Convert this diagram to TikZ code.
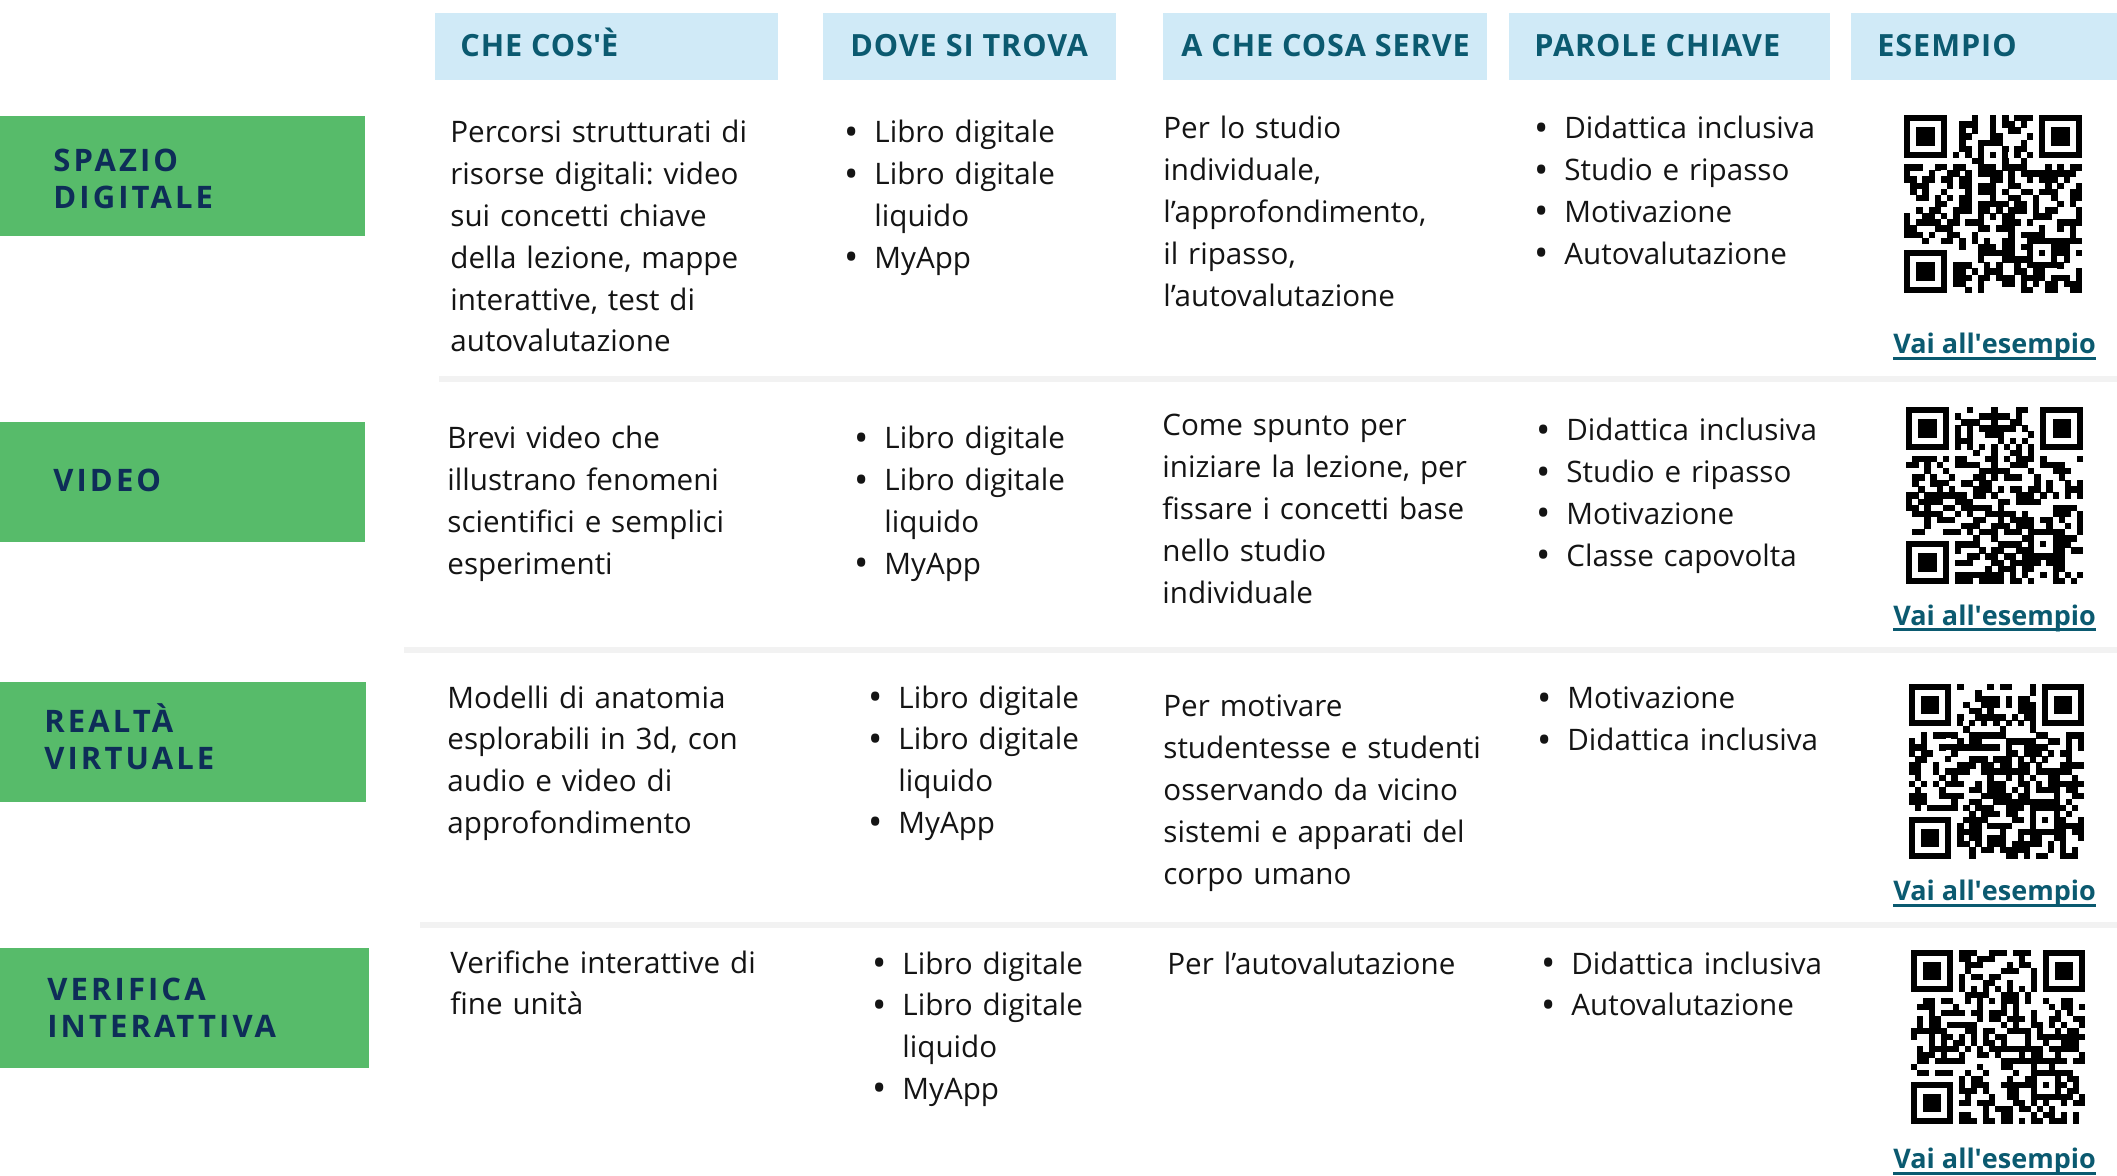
\documentclass[tikz,border=0pt]{standalone}
\usepackage{fontspec}
\setmainfont{Open Sans}
\newfontfamily\labfamily[LetterSpace=10]{Open Sans}
\newfontfamily\headfamily[LetterSpace=3]{Open Sans}
\definecolor{headblue}{RGB}{208, 234, 247}
\definecolor{headteal}{RGB}{11, 90, 112}
\definecolor{labgreen}{RGB}{87, 187, 106}
\definecolor{labnavy}{RGB}{14, 45, 88}
\definecolor{sepgray}{RGB}{242, 242, 242}
\definecolor{bodyblack}{RGB}{20, 20, 20}
\usetikzlibrary{positioning}
\frenchspacing
\newcommand{\bodyfnt}{\fontsize{14.8}{20.9}\selectfont}
\newcommand{\headfnt}{\headfamily\bfseries\fontsize{15.3}{18}\selectfont}
\newcommand{\labfnt}{\labfamily\bfseries\fontsize{15.5}{18.5}\selectfont}
\newcommand{\linkfnt}{\bfseries\fontsize{13.5}{15}\selectfont}
\newcommand{\bul}{\makebox[15pt][l]{\raisebox{-1.2pt}{\fontsize{19}{19}\selectfont\textbullet}}}
\newcommand{\ind}{\hspace*{15pt}}
% pseudo QR code: x, y, size, seed
\newcommand{\qrpattern}[4]{%
  \begin{scope}[shift={(#1,#2)}, scale=#3/29]
    \pgfmathsetseed{#4}
    \foreach \i in {0,...,28}{
      \foreach \j in {0,...,28}{
        \pgfmathtruncatemacro{\skipme}{((\i<8)&&(\j<8))||((\i>20)&&(\j<8))||((\i<8)&&(\j>20))||((\i>19)&&(\i<25)&&(\j>19)&&(\j<25))||(\i==6)||(\j==6)}
        \ifnum\skipme=0
          \pgfmathrandominteger{\rr}{0}{99}
          \ifnum\rr<50 \fill (\i,\j) rectangle ++(1.05,1.05); \fi
        \fi
      }
    }
    \foreach \k in {8,10,...,20}{
      \fill (\k,6) rectangle ++(1,1);
      \fill (6,\k) rectangle ++(1,1);
    }
    \foreach \a/\b in {0/0,22/0,0/22}{
      \fill (\a,\b) rectangle ++(7,7);
      \fill[white] (\a+1,\b+1) rectangle ++(5,5);
      \fill (\a+2,\b+2) rectangle ++(3,3);
    }
    \fill (20,20) rectangle ++(5,5);
    \fill[white] (21,21) rectangle ++(3,3);
    \fill (22,22) rectangle ++(1,1);
  \end{scope}}

\begin{document}
\begin{tikzpicture}[x=0.5pt, y=-0.5pt,
  headtxt/.style={anchor=base west, inner sep=0, text=headteal, font=\headfnt},
  labtxt/.style={anchor=base west, inner sep=0, text=labnavy, align=left, text width=170pt, font=\labfnt},
  bodytxt/.style={anchor=base west, inner sep=0, text=bodyblack, align=left, text width=200pt, font=\bodyfnt},
  linktxt/.style={anchor=base west, inner sep=0, text=headteal, font=\linkfnt},
  uline/.style={draw=headteal, line width=1.5pt}
]
  \useasboundingbox[fill=white] (0,0) rectangle (2117,1176);

  % Column headers
  \fill[headblue] (435,13) rectangle (778,80);
  \fill[headblue] (823,13) rectangle (1116,80);
  \fill[headblue] (1163,13) rectangle (1487,80);
  \fill[headblue] (1509,13) rectangle (1830,80);
  \fill[headblue] (1851,13) rectangle (2117,80);
  \node[headtxt] (hcosa) at (460,57) {CHE COS\textquotesingle È};
  \node[headtxt] (hdove) at (850,57) {DOVE SI TROVA};
  \node[headtxt] (hserve) at (1181,57) {A CHE COSA SERVE};
  \node[headtxt] (hparole) at (1534,57) {PAROLE CHIAVE};
  \node[headtxt] (hesempio) at (1877,57) {ESEMPIO};

  % Row separators
  \fill[sepgray] (439,376) rectangle (2117,382);
  \fill[sepgray] (404,647) rectangle (2117,653);
  \fill[sepgray] (420,922) rectangle (2117,928);

  % Row labels
  \fill[labgreen] (0,116) rectangle (365,236);
  \fill[labgreen] (0,422) rectangle (365,542);
  \fill[labgreen] (0,682) rectangle (366,802);
  \fill[labgreen] (0,948) rectangle (369,1068);
  \node[labtxt] (lspazio) at (53,172) {SPAZIO\\DIGITALE};
  \node[labtxt] (lvideo) at (53,492) {VIDEO};
  \node[labtxt] (lrealta) at (44,733) {REALTÀ\\VIRTUALE};
  \node[labtxt] (lverifica) at (47,1000) {VERIFICA\\INTERATTIVA};

  % Che cos'è
  \node[bodytxt] (cosa1) at (450,143) {Percorsi strutturati di\\risorse digitali: video\\sui concetti chiave\\della lezione, mappe\\interattive, test di\\autovalutazione};
  \node[bodytxt] (cosa2) at (447,449) {Brevi video che\\illustrano fenomeni\\scientifici e semplici\\esperimenti};
  \node[bodytxt] (cosa3) at (447,708) {Modelli di anatomia\\esplorabili in 3d, con\\audio e video di\\approfondimento};
  \node[bodytxt] (cosa4) at (450,973) {Verifiche interattive di\\fine unità};

  % Dove si trova
  \node[bodytxt] (dove1) at (844,143) {\bul Libro digitale\\\bul Libro digitale\\\ind liquido\\\bul MyApp};
  \node[bodytxt] (dove2) at (854,449) {\bul Libro digitale\\\bul Libro digitale\\\ind liquido\\\bul MyApp};
  \node[bodytxt] (dove3) at (868,708) {\bul Libro digitale\\\bul Libro digitale\\\ind liquido\\\bul MyApp};
  \node[bodytxt] (dove4) at (872,974) {\bul Libro digitale\\\bul Libro digitale\\\ind liquido\\\bul MyApp};

  % A che cosa serve
  \node[bodytxt] (serve1) at (1163,139) {Per lo studio\\individuale,\\l’approfondimento,\\il ripasso,\\l’autovalutazione};
  \node[bodytxt] (serve2) at (1162,436) {Come spunto per\\iniziare la lezione, per\\fissare i concetti base\\nello studio\\individuale};
  \node[bodytxt] (serve3) at (1163,717) {Per motivare\\studentesse e studenti\\osservando da vicino\\sistemi e apparati del\\corpo umano};
  \node[bodytxt] (serve4) at (1167,974) {Per l’autovalutazione};

  % Parole chiave
  \node[bodytxt] (parole1) at (1534,139) {\bul Didattica inclusiva\\\bul Studio e ripasso\\\bul Motivazione\\\bul Autovalutazione};
  \node[bodytxt] (parole2) at (1536,441) {\bul Didattica inclusiva\\\bul Studio e ripasso\\\bul Motivazione\\\bul Classe capovolta};
  \node[bodytxt] (parole3) at (1537,709) {\bul Motivazione\\\bul Didattica inclusiva};
  \node[bodytxt] (parole4) at (1541,974) {\bul Didattica inclusiva\\\bul Autovalutazione};

  % Esempio
  \qrpattern{1904}{115}{178}{11}
  \qrpattern{1906}{407}{177}{23}
  \qrpattern{1909}{684}{175}{37}
  \qrpattern{1911}{950}{174}{41}
  \node[linktxt] (link1) at (1893,354) {Vai all\textquotesingle esempio};
  \node[linktxt] (link2) at (1893,625) {Vai all\textquotesingle esempio};
  \node[linktxt] (link3) at (1893,900) {Vai all\textquotesingle esempio};
  \node[linktxt] (link4) at (1893,1168) {Vai all\textquotesingle esempio};
  \foreach \n in {link1,link2,link3,link4}
    \draw[uline] ([yshift=-2.5pt]\n.base west) -- ([yshift=-2.5pt]\n.base east);
\end{tikzpicture}
\end{document}
